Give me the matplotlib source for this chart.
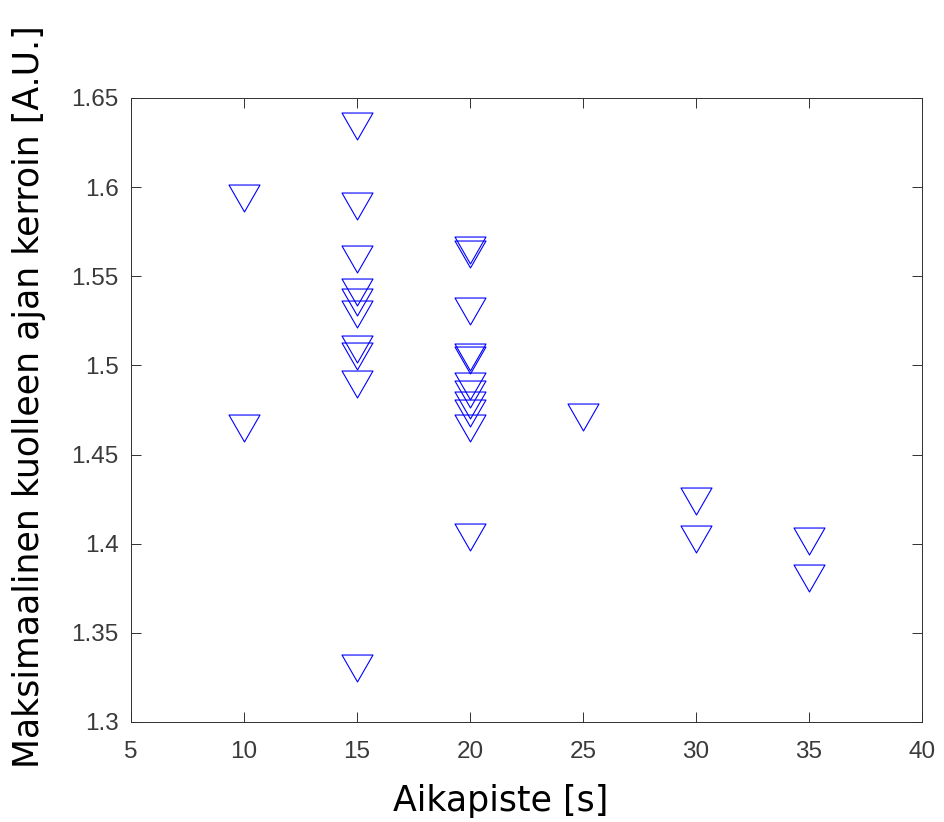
import numpy as np
import matplotlib.pyplot as plt
from matplotlib.path import Path

# Measured coefficient per time point
t10 = [1.594, 1.465]
t15 = [1.6345, 1.5896, 1.5598, 1.5413, 1.5353, 1.5287, 1.5094, 1.5052, 1.4898, 1.330]
t20 = [1.5649, 1.5627, 1.5305, 1.5048, 1.5033, 1.4886, 1.4837, 1.4777, 1.4734, 1.4651, 1.4039]
t25 = [1.4708]
t30 = [1.4239, 1.4026]
t35 = [1.4016, 1.3807]

times = [10, 15, 20, 25, 30, 35]
groups = [t10, t15, t20, t25, t30, t35]

x = np.concatenate([[t] * len(g) for t, g in zip(times, groups)])
y = np.concatenate(groups)

# Downward triangle, a bit wider than tall
tri = Path([(-1, 0.87), (1, 0.87), (0, -0.87), (-1, 0.87)],
           [Path.MOVETO, Path.LINETO, Path.LINETO, Path.CLOSEPOLY])

fig = plt.figure(figsize=(9.44, 8.22), dpi=100)
ax = fig.add_axes([0.1388, 0.1217, 0.8379, 0.7591])

ax.plot(x, y, linestyle='none', marker=tri, markersize=22.3,
        markerfacecolor='none', markeredgecolor='#0000ff', markeredgewidth=0.8)

ax.set_xlim(5, 40)
ax.set_ylim(1.3, 1.65)
ax.set_xticks(np.arange(5, 41, 5))
ax.set_yticks(np.arange(1.3, 1.651, 0.05))
ax.set_yticklabels(['1.3', '1.35', '1.4', '1.45', '1.5', '1.55', '1.6', '1.65'])

for s in ax.spines.values():
    s.set_color('#303030')
    s.set_linewidth(0.7)
ax.tick_params(direction='in', length=7, width=0.7, color='#303030',
               top=True, right=True, labelsize=17.5, labelcolor='#3a3a3a')
ax.tick_params(axis='x', pad=14)
ax.tick_params(axis='y', pad=9)
for lab in ax.get_xticklabels() + ax.get_yticklabels():
    lab.set_family('Liberation Sans')

ax.set_xlabel('Aikapiste [s]', fontsize=25, family='DejaVu Sans')
ax.set_ylabel('Maksimaalinen kuolleen ajan kerroin [A.U.]', fontsize=25,
              family='DejaVu Sans')
ax.xaxis.set_label_coords(0.467, -0.1)
ax.yaxis.set_label_coords(-0.108, 0.522)

fig.savefig('out.png', dpi=100)
